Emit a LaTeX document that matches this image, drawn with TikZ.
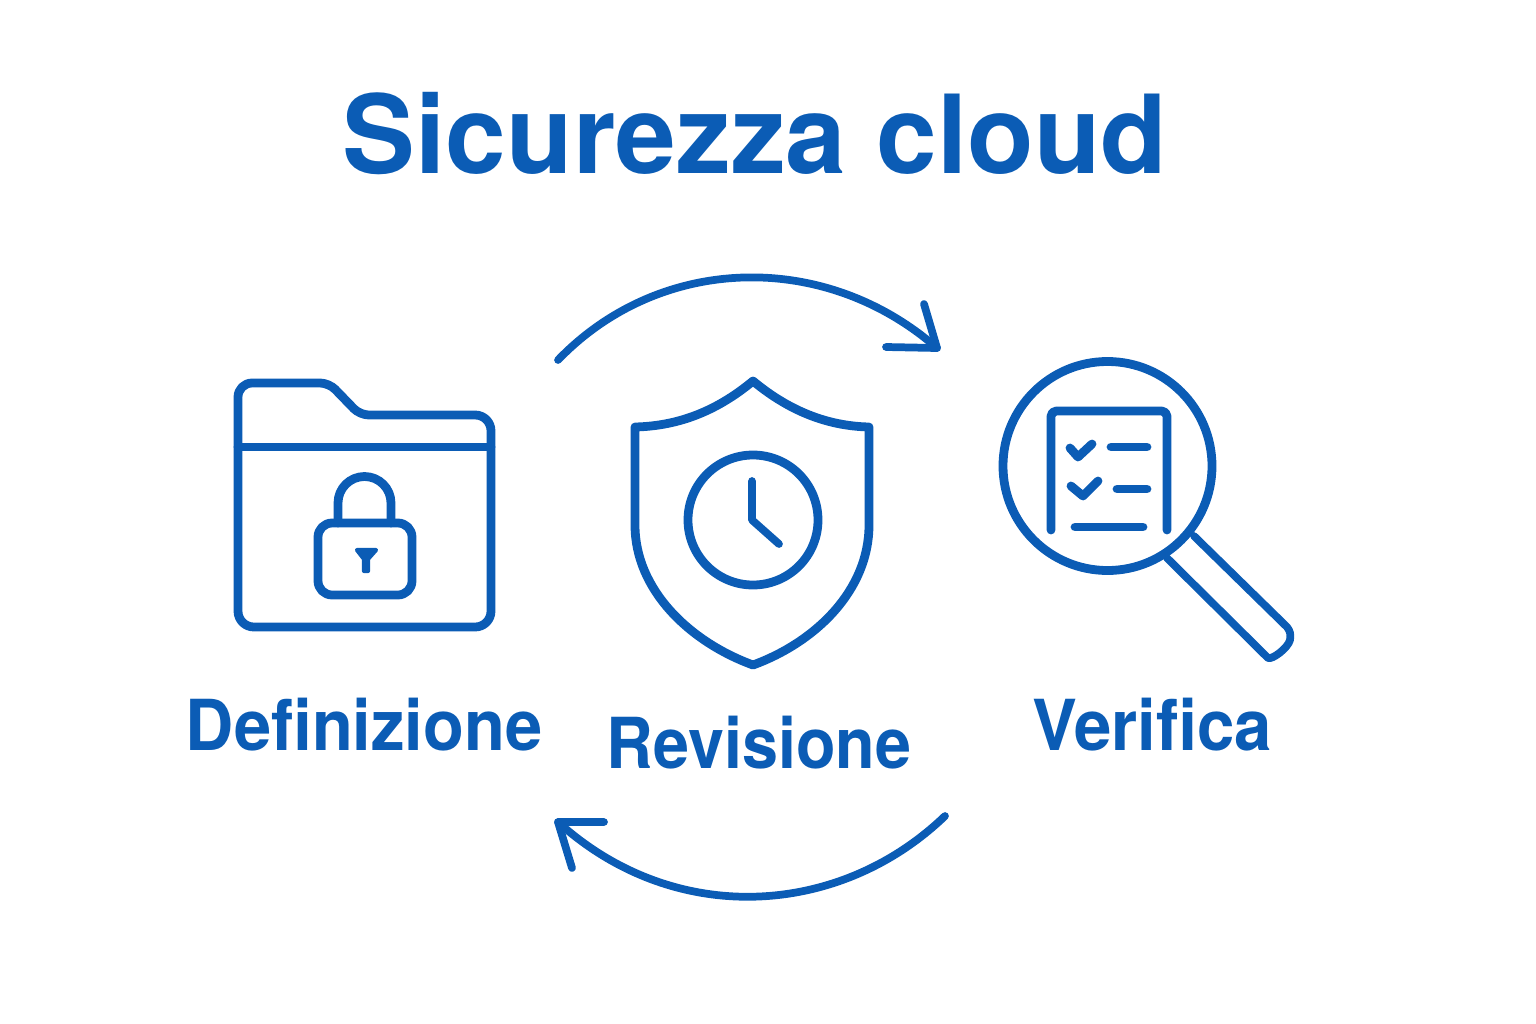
\documentclass[tikz,border=0pt]{standalone}
\usepackage{fontspec}
\setmainfont{TeX Gyre Heros}
\usepackage{graphicx}
\usepackage{xcolor}
\usepackage{tikz}
\usetikzlibrary{calc, positioning}
\definecolor{CloudBlue}{HTML}{0B5CB5}
\tikzset{
    icon/.style={draw=CloudBlue, line width=2.5pt, line cap=round, line join=round},
    iconthin/.style={icon, line width=2.2pt},
    label/.style={text=CloudBlue, font=\fontsize{20}{24}\bfseries, inner sep=0pt, anchor=center},
}

\begin{document}
\begin{tikzpicture}[x=0.01cm, y=-0.01cm]
            \useasboundingbox (0,0) rectangle (1536,1024);

            % === Title ===
            \node[text=CloudBlue, font=\fontsize{31}{36}\bfseries, inner sep=0pt] (title) at (755,134) {Sicurezza cloud};

            % === Folder with lock ===
            \draw[icon, rounded corners=4pt]
            (238,500) -- (238,383)
            [rounded corners=2.5pt] -- (329,383)
            -- (360,415)
            [rounded corners=4.5pt] -- (491,415)
            -- (491,627)
            -- (238,627)
            -- cycle;
            \draw[icon] (238,447) -- (491,447);

            \draw[icon, rounded corners=4pt] (318,523) rectangle (412,595);
            \draw[icon] (338,523) -- (338,503) arc[start angle=180, end angle=360, radius=26.5] -- (391,523);
            \filldraw[CloudBlue, line width=1.2pt, line join=round] (357,550) -- (376,550) -- (368,559) -- (368,571) -- (364,571) -- (364,559) -- cycle;

            % === Shield with clock ===
            \draw[icon]
            (753,381)
            .. controls (718,410) and (680,426) .. (635,427)
            -- (635,525)
            .. controls (635,590) and (690,642) .. (753,665)
            .. controls (816,642) and (869,590) .. (869,525)
            -- (869,427)
            .. controls (826,426) and (788,410) .. (753,381)
            -- cycle;
            \draw[icon] (753,520) circle (65);
            \draw[iconthin] (752,481) -- (752,520) -- (779,544);

            % === Magnifier with checklist ===
            \draw[icon] (1107.5,466) circle (104.5);
            \draw[iconthin]
            (1167,558) -- (1268,658)
            .. controls (1272,660) and (1288,648) .. (1290,640)
            .. controls (1291,634) and (1290,631) .. (1287,627)
            -- (1194,536);

            \draw[icon, rounded corners=1.5pt] (1051,530) -- (1051,411) -- (1167,411) -- (1167,530);
            \draw[icon] (1070,448) -- (1078,457) -- (1092,444);
            \draw[icon] (1111,447) -- (1147,447);
            \draw[icon] (1071,486) -- (1083,496) -- (1098,481);
            \draw[icon] (1117,489) -- (1147,489);
            \draw[icon] (1075,527) -- (1143,527);

            % === Labels ===
            \node[label] (definizione) at (364,725) {\scalebox{0.95}[1]{Definizione}};
            \node[label] (revisione) at (759,743) {\scalebox{0.92}[1]{Revisione}};
            \node[label] (verifica) at (1152,725) {\scalebox{0.955}[1]{Verifica}};

            % === Cycle arrows ===
            \coordinate (topstart) at (558,360);
            \coordinate (topend) at (937,348);
            \coordinate (botstart) at (945,816);
            \coordinate (botend) at (558,822);

            \draw[iconthin] (topstart) .. controls (660,254) and (825,250) .. (topend);
            \draw[iconthin] (924,304) -- (topend) -- (886,347);

            \draw[iconthin] (botstart) .. controls (840,917) and (675,928) .. (botend);
            \draw[iconthin] (604,822) -- (botend) -- (572,868);
\end{tikzpicture}
\end{document}
